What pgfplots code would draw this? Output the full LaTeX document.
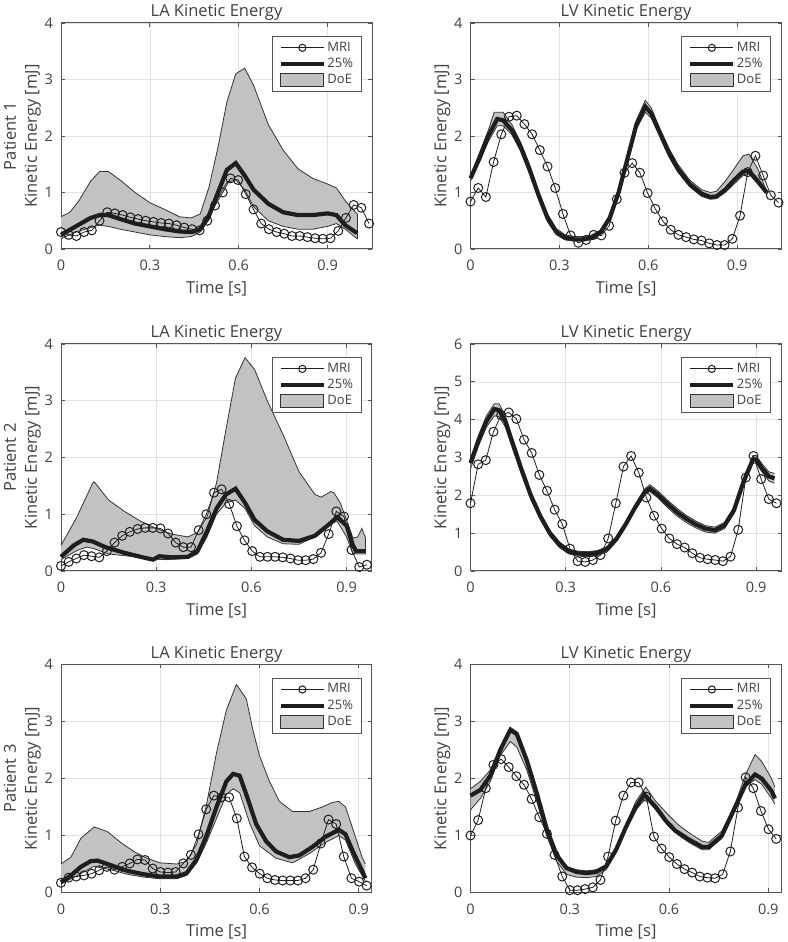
\documentclass[border=0pt]{standalone}
\usepackage{pgfplots}
\pgfplotsset{compat=1.18}
\usepgfplotslibrary{fillbetween}
\usepackage{fontspec}
\setmainfont{Open Sans}
\definecolor{txt}{HTML}{404040}
\definecolor{axc}{HTML}{555555}
\definecolor{gridc}{HTML}{E2E2E2}
\definecolor{bandfill}{HTML}{C2C2C2}
\definecolor{bandline}{HTML}{333333}
\definecolor{dark}{HTML}{1E1E1E}
\pgfplotsset{
  mri/.style={dark, line width=0.8pt, mark=o, mark size=4.5pt, mark options={line width=1pt, fill=none}},
  pct/.style={dark, line width=4.2pt},
  bnd/.style={bandline, line width=0.8pt},
  mrileg/.style={legend image code/.code={\draw[mark repeat=2, mark phase=2, mark size=3.6pt, ##1] plot coordinates {(0pt,0pt) (21.5pt,0pt) (43pt,0pt)};}},
  pctleg/.style={legend image code/.code={\draw[##1] (0pt,0pt) -- (43pt,0pt);}},
  doeleg/.style={legend image code/.code={\draw[##1] (0pt,-6.5pt) rectangle (43pt,6.5pt);}},
  ke/.style={
    scale only axis, width=311pt, height=227pt,
    xmin=0, ymin=0, clip=false,
    xtick={0,0.3,0.6,0.9}, xticklabels={0,0.3,0.6,0.9},
    grid=major, major grid style={gridc, line width=0.6pt},
    axis line style={axc, line width=1pt},
    tick style={axc, line width=0.8pt},
    tick align=inside, major tick length=4pt,
    /pgf/number format/assume math mode=true,
    ticklabel style={font=\fontsize{14.5}{14.5}\selectfont, text=txt},
    xticklabel style={inner sep=0pt, anchor=north, yshift=-11pt},
    yticklabel style={inner sep=0pt, anchor=east, xshift=-8pt},
    title style={font=\fontsize{16.5}{16.5}\selectfont, text=txt, at={(0.5,1)}, anchor=south, inner sep=0pt, yshift=-4pt},
    xlabel={Time [s]},
    xlabel style={font=\fontsize{16.5}{16.5}\selectfont, text=txt, at={(axis description cs:0.5,0)}, anchor=north, inner sep=0pt, yshift=-32pt},
    ylabel style={font=\fontsize{16.5}{21}\selectfont, text=txt, align=center, at={(axis description cs:-0.064,0.5)}, anchor=south, inner sep=0pt},
    legend style={at={(0.967,0.941)}, anchor=north east, draw=axc, line width=0.8pt, fill=white,
      font=\fontsize{13}{13}\selectfont, text=txt, inner xsep=6.8pt, inner ysep=3pt, row sep=0pt,
      nodes={inner sep=1.5pt, text height=10pt, text depth=3.2pt}, cells={anchor=west}},
  },
}
\newcommand{\leg}{%
  \addlegendimage{mri, mrileg}
  \addlegendentry{MRI}
  \addlegendimage{pct, pctleg}
  \addlegendentry{25\%}
  \addlegendimage{fill=bandfill, draw=bandline, line width=0.8pt, doeleg}
  \addlegendentry{DoE}
}
\begin{document}
\begin{tikzpicture}
\path (0,0) rectangle (787pt,942pt);

% ---------- Patient 1, LA ----------
\begin{axis}[ke, at={(61pt,693pt)}, anchor=south west, height=226pt, xmax=1.05, ymax=4, ytick={0,1,2,3,4},
  title={LA Kinetic Energy}, ylabel={Patient 1\\Kinetic Energy [mJ]}]
\leg
\addplot[bnd, forget plot, name path=u] coordinates {(0,0.57) (0.03,0.65) (0.06,0.85) (0.1,1.2) (0.13,1.37) (0.16,1.37) (0.2,1.22) (0.25,1.0) (0.3,0.82) (0.35,0.7) (0.4,0.57) (0.44,0.55) (0.47,0.62) (0.5,1.1) (0.53,1.8) (0.56,2.6) (0.59,3.1) (0.62,3.2) (0.65,2.9) (0.7,2.2) (0.75,1.75) (0.8,1.42) (0.85,1.25) (0.9,1.15) (0.93,1.08) (0.96,0.85) (1.0,0.62)};
\addplot[bnd, forget plot, name path=l] coordinates {(0,0.18) (0.05,0.3) (0.1,0.38) (0.13,0.42) (0.16,0.4) (0.2,0.35) (0.25,0.3) (0.3,0.25) (0.35,0.22) (0.4,0.2) (0.44,0.22) (0.47,0.3) (0.5,0.52) (0.53,0.9) (0.56,1.18) (0.59,1.22) (0.62,1.05) (0.65,0.75) (0.7,0.5) (0.75,0.4) (0.8,0.35) (0.85,0.35) (0.9,0.4) (0.93,0.45) (0.96,0.35) (1.0,0.18)};
\addplot[bandfill, forget plot] fill between[of=u and l];
\addplot[bnd, forget plot] coordinates {(1.0,0.18) (1.0,0.62)};
\addplot[pct, forget plot] coordinates {(0,0.25) (0.05,0.4) (0.1,0.55) (0.13,0.6) (0.16,0.6) (0.2,0.53) (0.25,0.45) (0.3,0.4) (0.35,0.35) (0.4,0.31) (0.44,0.3) (0.47,0.35) (0.5,0.6) (0.53,1.0) (0.56,1.4) (0.59,1.52) (0.62,1.3) (0.65,1.05) (0.7,0.8) (0.75,0.65) (0.8,0.6) (0.85,0.6) (0.9,0.63) (0.93,0.6) (0.96,0.42) (1.0,0.28)};
\addplot[mri, forget plot] coordinates {(0,0.30) (0.026,0.25) (0.052,0.23) (0.078,0.30) (0.104,0.33) (0.13,0.50) (0.156,0.65) (0.182,0.63) (0.208,0.60) (0.234,0.56) (0.26,0.53) (0.286,0.50) (0.312,0.48) (0.338,0.46) (0.364,0.45) (0.39,0.42) (0.416,0.38) (0.442,0.35) (0.468,0.33) (0.494,0.50) (0.52,0.77) (0.546,1.00) (0.572,1.25) (0.598,1.22) (0.624,0.97) (0.65,0.70) (0.676,0.45) (0.702,0.35) (0.728,0.30) (0.754,0.27) (0.78,0.23) (0.806,0.23) (0.832,0.21) (0.858,0.19) (0.884,0.18) (0.91,0.19) (0.936,0.32) (0.962,0.55) (0.988,0.78) (1.014,0.73) (1.04,0.45)};
\end{axis}

% ---------- Patient 1, LV ----------
\begin{axis}[ke, at={(470.5pt,693pt)}, anchor=south west, height=226pt, xmax=1.05, ymax=4, ytick={0,1,2,3,4},
  title={LV Kinetic Energy}, ylabel={Kinetic Energy [mJ]}]
\leg
\addplot[bnd, forget plot, name path=u] coordinates {(0,1.3) (0.03,1.7) (0.06,2.1) (0.08,2.42) (0.11,2.42) (0.14,2.2) (0.17,1.88) (0.2,1.48) (0.23,1.02) (0.26,0.62) (0.29,0.36) (0.32,0.25) (0.35,0.22) (0.38,0.22) (0.41,0.25) (0.44,0.34) (0.47,0.58) (0.5,1.03) (0.53,1.65) (0.56,2.28) (0.59,2.63) (0.61,2.5) (0.64,2.12) (0.67,1.78) (0.7,1.5) (0.74,1.22) (0.78,1.05) (0.81,1.0) (0.83,1.02) (0.86,1.2) (0.89,1.42) (0.92,1.65) (0.94,1.68) (0.97,1.42) (1.0,1.02)};
\addplot[bnd, forget plot, name path=l] coordinates {(0,1.2) (0.03,1.55) (0.06,1.9) (0.09,2.18) (0.11,2.18) (0.14,2.02) (0.17,1.72) (0.2,1.32) (0.23,0.88) (0.26,0.48) (0.29,0.25) (0.32,0.16) (0.35,0.14) (0.38,0.14) (0.41,0.17) (0.44,0.27) (0.47,0.52) (0.5,0.96) (0.53,1.55) (0.56,2.12) (0.59,2.42) (0.61,2.32) (0.64,1.98) (0.67,1.63) (0.7,1.36) (0.74,1.1) (0.78,0.93) (0.81,0.88) (0.83,0.89) (0.86,1.0) (0.89,1.15) (0.92,1.3) (0.94,1.33) (0.97,1.15) (1.0,0.97)};
\addplot[bandfill, forget plot] fill between[of=u and l];
\addplot[pct, forget plot] coordinates {(0,1.25) (0.03,1.6) (0.06,2.0) (0.09,2.3) (0.11,2.28) (0.14,2.1) (0.17,1.8) (0.2,1.4) (0.23,0.95) (0.26,0.55) (0.29,0.3) (0.32,0.2) (0.35,0.17) (0.38,0.17) (0.41,0.2) (0.44,0.3) (0.47,0.55) (0.5,1.0) (0.53,1.6) (0.56,2.2) (0.59,2.52) (0.61,2.4) (0.64,2.05) (0.67,1.7) (0.7,1.42) (0.74,1.15) (0.78,0.98) (0.81,0.92) (0.83,0.93) (0.86,1.05) (0.89,1.22) (0.92,1.37) (0.94,1.38) (0.97,1.2) (1.0,1.0)};
\addplot[mri, forget plot] coordinates {(0,0.84) (0.026,1.08) (0.052,0.92) (0.078,1.54) (0.104,2.03) (0.13,2.34) (0.156,2.36) (0.182,2.21) (0.208,2.03) (0.234,1.75) (0.26,1.46) (0.286,1.08) (0.312,0.62) (0.338,0.24) (0.364,0.11) (0.39,0.16) (0.416,0.25) (0.442,0.24) (0.468,0.41) (0.494,0.88) (0.52,1.35) (0.546,1.52) (0.572,1.35) (0.598,0.99) (0.624,0.71) (0.65,0.49) (0.676,0.34) (0.702,0.25) (0.728,0.21) (0.754,0.17) (0.78,0.15) (0.806,0.10) (0.832,0.07) (0.858,0.07) (0.884,0.18) (0.91,0.59) (0.936,1.36) (0.962,1.65) (0.988,1.30) (1.014,0.95) (1.04,0.82)};
\end{axis}

% ---------- Patient 2, LA ----------
\begin{axis}[ke, at={(61pt,371pt)}, anchor=south west, height=227pt, xmax=0.98, ymax=4, ytick={0,1,2,3,4},
  title={LA Kinetic Energy}, ylabel={Patient 2\\Kinetic Energy [mJ]}]
\leg
\addplot[bnd, forget plot, name path=u] coordinates {(0,0.45) (0.05,0.95) (0.1,1.55) (0.105,1.57) (0.15,1.25) (0.2,1.05) (0.25,0.88) (0.3,0.75) (0.35,0.65) (0.4,0.6) (0.43,0.68) (0.46,0.95) (0.49,1.55) (0.52,2.5) (0.55,3.4) (0.58,3.76) (0.61,3.55) (0.65,3.0) (0.7,2.4) (0.75,1.75) (0.8,1.35) (0.82,1.3) (0.85,1.4) (0.86,1.38) (0.88,1.2) (0.9,0.9) (0.92,0.58) (0.935,0.6) (0.948,0.75) (0.96,0.58)};
\addplot[bnd, forget plot, name path=l] coordinates {(0,0.2) (0.05,0.36) (0.08,0.42) (0.1,0.4) (0.15,0.3) (0.2,0.27) (0.25,0.24) (0.29,0.21) (0.33,0.2) (0.4,0.22) (0.43,0.3) (0.46,0.6) (0.49,1.0) (0.52,1.2) (0.55,1.25) (0.58,1.1) (0.61,0.8) (0.65,0.6) (0.7,0.48) (0.75,0.47) (0.8,0.6) (0.84,0.8) (0.87,0.88) (0.9,0.6) (0.92,0.3) (0.96,0.3)};
\addplot[bandfill, forget plot] fill between[of=u and l];
\addplot[bnd, forget plot] coordinates {(0.96,0.3) (0.96,0.58)};
\addplot[pct, forget plot] coordinates {(0,0.25) (0.04,0.45) (0.07,0.55) (0.1,0.52) (0.14,0.42) (0.2,0.32) (0.25,0.25) (0.29,0.2) (0.31,0.26) (0.35,0.24) (0.4,0.25) (0.43,0.35) (0.46,0.7) (0.49,1.1) (0.52,1.35) (0.55,1.45) (0.58,1.2) (0.61,0.9) (0.65,0.7) (0.7,0.55) (0.75,0.53) (0.8,0.62) (0.84,0.8) (0.87,0.95) (0.9,0.8) (0.92,0.45) (0.93,0.35) (0.96,0.35)};
\addplot[mri, forget plot] coordinates {(0,0.09) (0.0241,0.16) (0.0482,0.22) (0.0723,0.28) (0.0964,0.26) (0.1205,0.24) (0.1446,0.35) (0.1687,0.50) (0.1928,0.62) (0.2169,0.69) (0.241,0.74) (0.2651,0.76) (0.2892,0.76) (0.3133,0.75) (0.3374,0.66) (0.3615,0.50) (0.3856,0.42) (0.4097,0.42) (0.4338,0.72) (0.4579,1.00) (0.482,1.38) (0.5061,1.44) (0.5302,1.18) (0.5543,0.79) (0.5784,0.54) (0.6025,0.35) (0.6266,0.25) (0.6507,0.25) (0.6748,0.25) (0.6989,0.24) (0.723,0.22) (0.7471,0.19) (0.7712,0.19) (0.7953,0.21) (0.8194,0.32) (0.8435,0.65) (0.8676,1.05) (0.8917,0.96) (0.9158,0.37) (0.9399,0.07) (0.964,0.11)};
\end{axis}

% ---------- Patient 2, LV ----------
\begin{axis}[ke, at={(470.5pt,371pt)}, anchor=south west, height=227pt, xmax=0.98, ymax=6, ytick={0,1,2,3,4,5,6},
  title={LV Kinetic Energy}, ylabel={Kinetic Energy [mJ]}]
\leg
\addplot[bnd, forget plot, name path=u] coordinates {(0,2.95) (0.025,3.58) (0.05,4.1) (0.075,4.42) (0.09,4.42) (0.11,4.1) (0.13,3.57) (0.16,2.8) (0.19,2.08) (0.22,1.52) (0.25,1.07) (0.28,0.77) (0.31,0.58) (0.34,0.52) (0.37,0.51) (0.4,0.54) (0.43,0.64) (0.46,0.9) (0.49,1.3) (0.52,1.76) (0.55,2.18) (0.565,2.28) (0.59,2.12) (0.62,1.88) (0.65,1.66) (0.68,1.47) (0.71,1.32) (0.74,1.2) (0.77,1.16) (0.8,1.28) (0.83,1.68) (0.86,2.45) (0.89,3.05) (0.9,3.05) (0.92,2.82) (0.94,2.62) (0.958,2.58)};
\addplot[bnd, forget plot, name path=l] coordinates {(0,2.7) (0.025,3.3) (0.05,3.8) (0.075,4.1) (0.09,4.08) (0.11,3.8) (0.13,3.3) (0.16,2.58) (0.19,1.9) (0.22,1.36) (0.25,0.92) (0.28,0.62) (0.31,0.45) (0.34,0.39) (0.37,0.38) (0.4,0.41) (0.43,0.5) (0.46,0.78) (0.49,1.18) (0.52,1.62) (0.55,2.02) (0.565,2.1) (0.59,1.94) (0.62,1.68) (0.65,1.46) (0.68,1.28) (0.71,1.14) (0.74,1.03) (0.77,1.0) (0.8,1.12) (0.83,1.52) (0.86,2.25) (0.89,2.85) (0.9,2.85) (0.92,2.6) (0.94,2.38) (0.958,2.32)};
\addplot[bandfill, forget plot] fill between[of=u and l];
\addplot[pct, forget plot] coordinates {(0,2.85) (0.025,3.45) (0.05,3.95) (0.075,4.28) (0.09,4.25) (0.11,3.95) (0.13,3.45) (0.16,2.7) (0.19,2.0) (0.22,1.45) (0.25,1.0) (0.28,0.7) (0.31,0.52) (0.34,0.46) (0.37,0.45) (0.4,0.48) (0.43,0.58) (0.46,0.85) (0.49,1.25) (0.52,1.7) (0.55,2.1) (0.565,2.18) (0.59,2.02) (0.62,1.78) (0.65,1.56) (0.68,1.38) (0.71,1.23) (0.74,1.12) (0.77,1.08) (0.8,1.2) (0.83,1.6) (0.86,2.35) (0.89,2.95) (0.9,2.95) (0.92,2.7) (0.94,2.5) (0.958,2.45)};
\addplot[mri, forget plot] coordinates {(0,1.79) (0.0241,2.82) (0.0482,2.93) (0.0723,3.68) (0.0964,4.12) (0.1205,4.19) (0.1446,4.02) (0.1687,3.47) (0.1928,3.12) (0.2169,2.54) (0.241,2.12) (0.2651,1.62) (0.2892,1.24) (0.3133,0.59) (0.3374,0.26) (0.3615,0.24) (0.3856,0.29) (0.4097,0.42) (0.4338,0.86) (0.4579,1.79) (0.482,2.76) (0.5061,3.04) (0.5302,2.60) (0.5543,1.94) (0.5784,1.46) (0.6025,1.12) (0.6266,0.86) (0.6507,0.71) (0.6748,0.62) (0.6989,0.47) (0.723,0.35) (0.7471,0.31) (0.7712,0.29) (0.7953,0.26) (0.8194,0.38) (0.8435,1.09) (0.8676,2.47) (0.8917,3.04) (0.9158,2.43) (0.9399,1.90) (0.964,1.79)};
\end{axis}

% ---------- Patient 3, LA ----------
\begin{axis}[ke, at={(61pt,49.5pt)}, anchor=south west, height=228pt, xmax=0.94, ymax=4, ytick={0,1,2,3,4},
  title={LA Kinetic Energy}, ylabel={Patient 3\\Kinetic Energy [mJ]}]
\leg
\addplot[bnd, forget plot, name path=u] coordinates {(0,0.5) (0.03,0.62) (0.06,0.95) (0.1,1.15) (0.14,1.07) (0.18,0.88) (0.22,0.72) (0.26,0.6) (0.3,0.52) (0.35,0.5) (0.38,0.55) (0.41,0.85) (0.44,1.55) (0.47,2.45) (0.5,3.2) (0.53,3.65) (0.56,3.4) (0.58,2.85) (0.6,2.4) (0.63,1.95) (0.66,1.6) (0.7,1.42) (0.75,1.42) (0.79,1.5) (0.82,1.58) (0.84,1.6) (0.86,1.5) (0.88,1.15) (0.91,0.62) (0.92,0.5)};
\addplot[bnd, forget plot, name path=l] coordinates {(0,0.15) (0.05,0.3) (0.1,0.46) (0.15,0.4) (0.2,0.32) (0.25,0.27) (0.3,0.24) (0.35,0.24) (0.38,0.3) (0.41,0.52) (0.44,0.88) (0.47,1.3) (0.5,1.72) (0.52,1.82) (0.54,1.75) (0.57,1.22) (0.6,0.82) (0.65,0.6) (0.7,0.52) (0.75,0.68) (0.8,0.88) (0.84,1.0) (0.86,0.92) (0.89,0.5) (0.92,0.2)};
\addplot[bandfill, forget plot] fill between[of=u and l];
\addplot[pct, forget plot] coordinates {(0,0.18) (0.03,0.30) (0.06,0.45) (0.09,0.55) (0.11,0.56) (0.15,0.48) (0.2,0.38) (0.25,0.32) (0.3,0.28) (0.35,0.28) (0.38,0.34) (0.41,0.58) (0.44,1.0) (0.47,1.5) (0.5,1.95) (0.52,2.08) (0.54,2.05) (0.56,1.72) (0.59,1.2) (0.62,0.9) (0.65,0.72) (0.69,0.62) (0.72,0.65) (0.76,0.8) (0.8,0.98) (0.84,1.1) (0.86,1.02) (0.88,0.75) (0.91,0.38) (0.92,0.25)};
\addplot[mri, forget plot] coordinates {(0,0.17) (0.0231,0.26) (0.0462,0.28) (0.0693,0.30) (0.0924,0.33) (0.1155,0.39) (0.1386,0.45) (0.1617,0.40) (0.1848,0.45) (0.2079,0.51) (0.231,0.58) (0.2541,0.57) (0.2772,0.42) (0.3003,0.36) (0.3234,0.35) (0.3465,0.36) (0.3696,0.51) (0.3927,0.66) (0.4158,1.02) (0.4389,1.46) (0.462,1.70) (0.4851,1.67) (0.5082,1.67) (0.5313,1.30) (0.5544,0.63) (0.5775,0.44) (0.6006,0.33) (0.6237,0.25) (0.6468,0.22) (0.6699,0.21) (0.693,0.21) (0.7161,0.21) (0.7392,0.25) (0.7623,0.40) (0.7854,0.86) (0.8085,1.28) (0.8316,1.20) (0.8547,0.63) (0.8778,0.25) (0.9009,0.19) (0.924,0.12)};
\end{axis}

% ---------- Patient 3, LV ----------
\begin{axis}[ke, at={(470.5pt,49.5pt)}, anchor=south west, height=228pt, xmax=0.94, ymax=4, ytick={0,1,2,3,4},
  title={LV Kinetic Energy}, ylabel={Kinetic Energy [mJ]}]
\leg
\addplot[bnd, forget plot, name path=u] coordinates {(0,1.82) (0.03,1.95) (0.06,2.15) (0.09,2.55) (0.12,2.9) (0.14,2.82) (0.17,2.35) (0.2,1.8) (0.23,1.15) (0.26,0.7) (0.29,0.45) (0.32,0.4) (0.35,0.38) (0.38,0.4) (0.41,0.48) (0.44,0.8) (0.47,1.2) (0.5,1.6) (0.53,1.85) (0.56,1.6) (0.6,1.35) (0.63,1.18) (0.66,1.05) (0.7,0.9) (0.72,0.88) (0.76,1.08) (0.8,1.55) (0.83,2.05) (0.86,2.42) (0.88,2.3) (0.91,2.0) (0.92,1.85)};
\addplot[bnd, forget plot, name path=l] coordinates {(0,1.45) (0.03,1.65) (0.06,1.95) (0.09,2.4) (0.12,2.65) (0.14,2.55) (0.17,2.15) (0.2,1.6) (0.23,1.0) (0.26,0.55) (0.29,0.32) (0.32,0.27) (0.35,0.26) (0.38,0.28) (0.41,0.4) (0.44,0.7) (0.47,1.1) (0.5,1.45) (0.53,1.65) (0.56,1.45) (0.6,1.15) (0.63,1.0) (0.66,0.88) (0.7,0.75) (0.72,0.75) (0.76,0.95) (0.8,1.45) (0.83,1.85) (0.86,1.98) (0.88,1.9) (0.91,1.65) (0.92,1.55)};
\addplot[bandfill, forget plot] fill between[of=u and l];
\addplot[pct, forget plot] coordinates {(0,1.7) (0.03,1.8) (0.06,2.05) (0.09,2.5) (0.12,2.85) (0.14,2.78) (0.17,2.32) (0.2,1.75) (0.23,1.12) (0.26,0.66) (0.29,0.43) (0.32,0.36) (0.35,0.34) (0.38,0.36) (0.41,0.46) (0.44,0.75) (0.47,1.15) (0.5,1.5) (0.525,1.72) (0.56,1.5) (0.59,1.26) (0.62,1.08) (0.66,0.93) (0.7,0.8) (0.72,0.8) (0.76,1.0) (0.8,1.5) (0.83,1.88) (0.86,2.07) (0.88,2.0) (0.91,1.78) (0.92,1.65)};
\addplot[mri, forget plot] coordinates {(0,1.00) (0.0231,1.27) (0.0462,1.83) (0.0693,2.24) (0.0924,2.34) (0.1155,2.20) (0.1386,2.04) (0.1617,1.89) (0.1848,1.64) (0.2079,1.32) (0.231,1.03) (0.2541,0.66) (0.2772,0.28) (0.3003,0.04) (0.3234,0.04) (0.3465,0.06) (0.3696,0.09) (0.3927,0.22) (0.4158,0.63) (0.4389,1.26) (0.462,1.70) (0.4851,1.93) (0.5082,1.93) (0.5313,1.68) (0.5544,0.98) (0.5775,0.77) (0.6006,0.62) (0.6237,0.50) (0.6468,0.41) (0.6699,0.35) (0.693,0.28) (0.7161,0.26) (0.7392,0.25) (0.7623,0.32) (0.7854,0.72) (0.8085,1.49) (0.8316,2.02) (0.8547,1.83) (0.8778,1.43) (0.9009,1.11) (0.924,0.94)};
\end{axis}
\end{tikzpicture}
\end{document}
